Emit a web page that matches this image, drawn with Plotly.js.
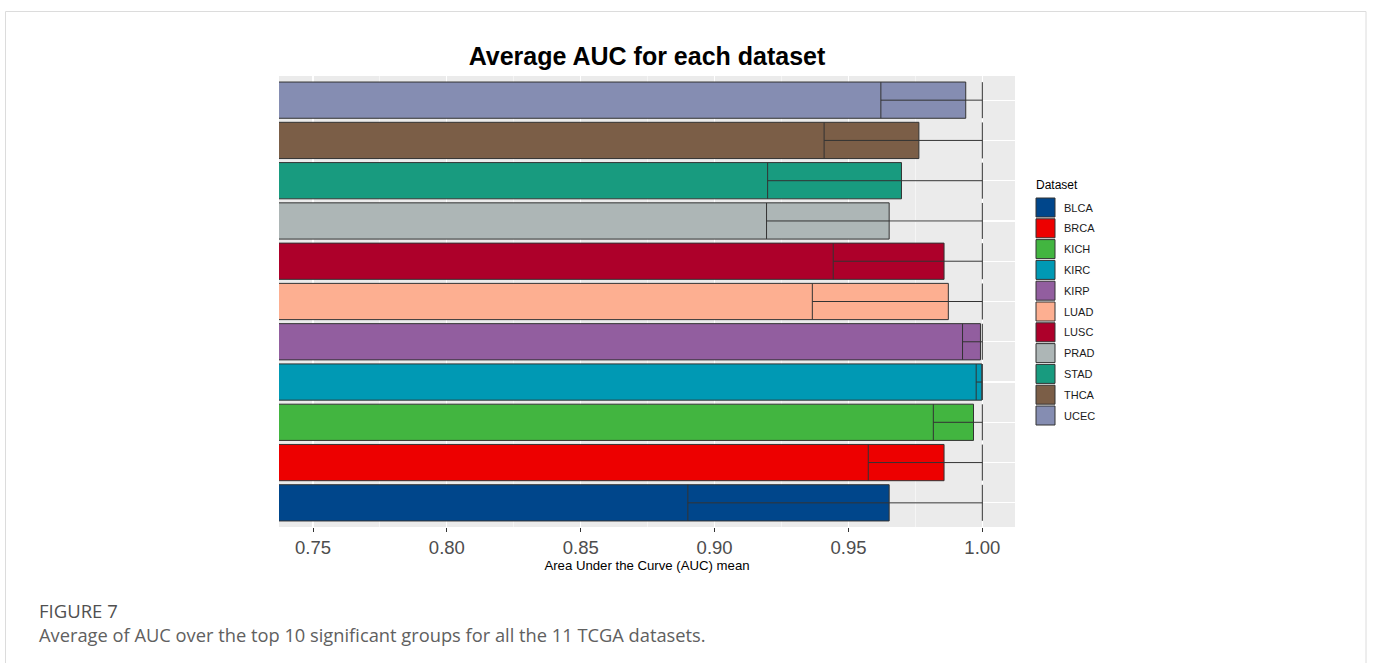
<!DOCTYPE html>
<html>
<head>
<meta charset="utf-8">
<script src="https://cdn.plot.ly/plotly-3.0.1.min.js"></script>
<style>html,body{margin:0;padding:0;background:#fff;}#chart{width:1373px;height:663px;}</style>
</head>
<body>
<div id="chart"></div>
<script>
// ---- data ----
const categories = ['BLCA','BRCA','KICH','KIRC','KIRP','LUAD','LUSC','PRAD','STAD','THCA','UCEC'];
const meanAUC   = [0.9652,0.9857,0.9967,0.9998,0.9993,0.9873,0.9857,0.9652,0.9698,0.9763,0.9938];
const lowerAUC  = [0.8900,0.9574,0.9817,0.9977,0.9926,0.9365,0.9443,0.9194,0.9198,0.9409,0.9621];
const upperAUC  = [1,1,1,1,1,1,1,1,1,1,1];
const colors    = ['#00468B','#ED0000','#42B540','#0099B4','#925E9F','#FDAF91','#AD002A','#ADB6B6','#189B7F','#7B5E47','#858DB2'];
const tickVals  = [0.75,0.80,0.85,0.90,0.95,1.00];
const tickText  = ['0.75','0.80','0.85','0.90','0.95','1.00'];

// ---- geometry helpers (layout only) ----
const W = 1373, H = 663;
const L = 279, R = 1015, T = 76, B = 527;
const px = x => (x - L) / (R - L);
const py = y => (B - y) / (B - T);

const traces = categories.map((c, i) => ({
  type: 'bar',
  orientation: 'h',
  name: c,
  y: [c],
  x: [meanAUC[i]],
  width: 0.9,
  marker: {color: colors[i], line: {color: '#333333', width: 1}},
  error_x: {
    type: 'data', symmetric: false,
    array: [upperAUC[i] - meanAUC[i]],
    arrayminus: [meanAUC[i] - lowerAUC[i]],
    color: '#333333', thickness: 1, width: 18
  },
  showlegend: false,
  hoverinfo: 'x+name'
}));

const shapes = [
  {type:'rect', xref:'paper', yref:'paper', x0:px(5.5), x1:px(1366), y0:py(11.5), y1:py(720), line:{color:'#dcdcdc', width:1}, fillcolor:'rgba(0,0,0,0)'}
];
const annotations = [
  {xref:'paper', yref:'paper', x:px(1034), y:py(185), xanchor:'left', yanchor:'middle', text:'Dataset', showarrow:false, font:{family:'Liberation Sans, Arial', size:12, color:'#000'}},
  {xref:'paper', yref:'paper', x:px(37), y:py(610), xanchor:'left', yanchor:'middle', text:'FIGURE 7', showarrow:false, font:{family:'Open Sans', size:18.5, color:'#505050'}},
  {xref:'paper', yref:'paper', x:px(37), y:py(634), xanchor:'left', yanchor:'middle', text:'Average of AUC over the top 10 significant groups for all the 11 TCGA datasets.', showarrow:false, font:{family:'Open Sans', size:18.3, color:'#606060'}}
];
const keyTop = 198, keyStep = 20.8, keySize = 19;
categories.forEach((c, i) => {
  const y0 = keyTop + i * keyStep;
  shapes.push({type:'rect', xref:'paper', yref:'paper', x0:px(1036), x1:px(1036+keySize), y0:py(y0), y1:py(y0+keySize),
    fillcolor: colors[i], line:{color:'#333333', width:1}});
  annotations.push({xref:'paper', yref:'paper', x:px(1062), y:py(y0+keySize/2), xanchor:'left', yanchor:'middle', text:c, showarrow:false,
    font:{family:'Liberation Sans, Arial', size:11, color:'#1a1a1a'}});
});

const layout = {
  width: W, height: H,
  margin: {l: L, r: W - R, t: T, b: H - B, pad: 0},
  paper_bgcolor: '#ffffff',
  plot_bgcolor: '#EBEBEB',
  barmode: 'overlay',
  showlegend: false,
  title: {text: '<b>Average AUC for each dataset</b>', x: 0.5, xref: 'paper', y: 1 - 56/H, yref: 'container', yanchor: 'middle',
          font: {family: 'Liberation Sans, Arial', size: 25, color: '#000'}},
  xaxis: {
    range: [0.7373, 1.0122],
    tickvals: tickVals, ticktext: tickText,
    ticks: 'outside', ticklen: 4, tickcolor: '#333333', tickwidth: 1,
    tickfont: {family: 'Liberation Sans, Arial', size: 18.5, color: '#4d4d4d'},
    showgrid: true, gridcolor: '#ffffff', gridwidth: 1.2,
    minor: {dtick: 0.025, tick0: 0.75, showgrid: true, gridcolor: '#ffffff', gridwidth: 0.5},
    zeroline: false, showline: false,
    title: {text: 'Area Under the Curve (AUC) mean', font: {family: 'Liberation Sans, Arial', size: 13.2, color: '#000'}, standoff: 3}
  },
  yaxis: {
    type: 'category', categoryorder: 'array', categoryarray: categories,
    range: [-0.6, 10.6],
    showticklabels: false, ticks: '',
    showgrid: true, gridcolor: '#ffffff', gridwidth: 1.2,
    zeroline: false, showline: false
  },
  shapes: shapes,
  annotations: annotations
};

Plotly.newPlot('chart', traces, layout, {displayModeBar: false, staticPlot: true});
</script>
</body>
</html>
